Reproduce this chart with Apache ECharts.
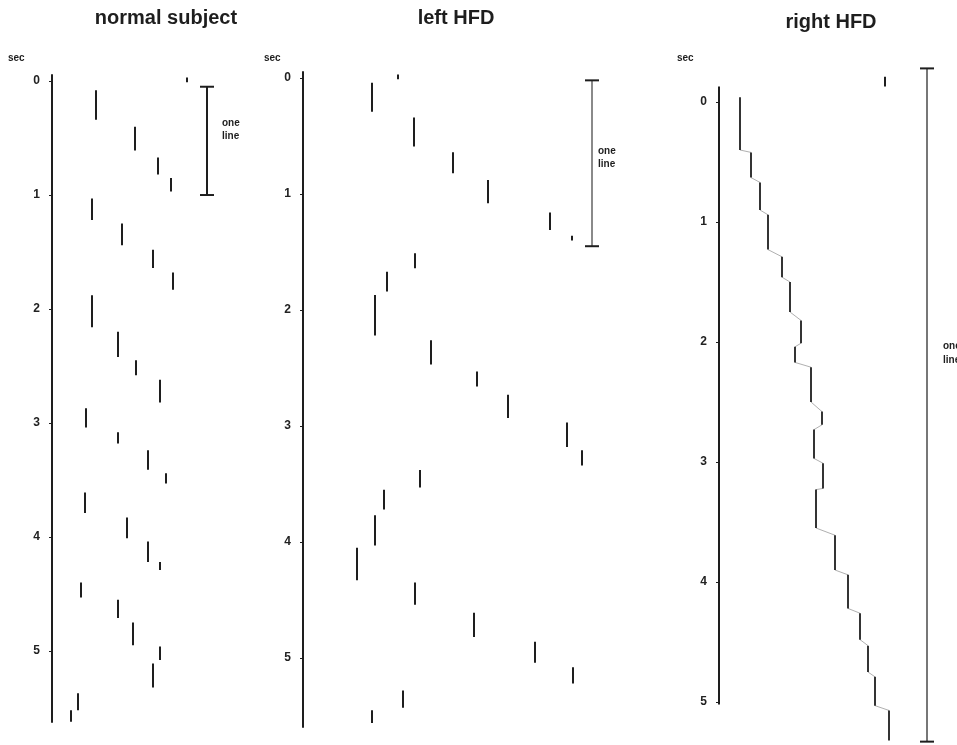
<!DOCTYPE html>
<html>
<head>
<meta charset="utf-8">
<script src="https://cdn.jsdelivr.net/npm/echarts@6/dist/echarts.min.js"></script>
<style>
  html, body { margin: 0; padding: 0; background: #fff; }
  #chart { width: 957px; height: 745px; }
</style>
</head>
<body>
<div id="chart"></div>
<script>
// tick labels (seconds) shared by the three panels
const secTicks = [0, 1, 2, 3, 4, 5]

// fixations: [horizontal position, start sec, end sec], grouped by text line
const normalFixations = [
  [[135, -0.03, 0.01]],
  [[44, 0.08, 0.34], [83, 0.40, 0.61], [106, 0.67, 0.82], [119, 0.85, 0.97]],
  [[40, 1.03, 1.22], [70, 1.25, 1.44], [101, 1.48, 1.64], [121, 1.68, 1.83]],
  [[40, 1.88, 2.16], [66, 2.20, 2.42], [84, 2.45, 2.58], [108, 2.62, 2.82]],
  [[34, 2.87, 3.04], [66, 3.08, 3.18], [96, 3.24, 3.41], [114, 3.44, 3.53]],
  [[33, 3.61, 3.79], [75, 3.83, 4.01], [96, 4.04, 4.22], [108, 4.22, 4.29]],
  [[29, 4.40, 4.53], [66, 4.55, 4.71], [81, 4.75, 4.95], [108, 4.96, 5.08], [101, 5.11, 5.32]],
  [[26, 5.37, 5.52], [19, 5.52, 5.62]]
]

const leftFixations = [
  [[95, -0.03, 0.01]],
  [[69, 0.04, 0.29], [111, 0.34, 0.59], [150, 0.64, 0.82], [185, 0.88, 1.08], [247, 1.16, 1.31], [269, 1.36, 1.40]],
  [[112, 1.51, 1.64], [84, 1.67, 1.84], [72, 1.87, 2.22], [128, 2.26, 2.47], [174, 2.53, 2.66], [205, 2.73, 2.93], [264, 2.97, 3.18], [279, 3.21, 3.34]],
  [[117, 3.38, 3.53], [81, 3.55, 3.72], [72, 3.77, 4.03], [54, 4.05, 4.33]],
  [[112, 4.35, 4.54], [171, 4.61, 4.82], [232, 4.86, 5.04], [270, 5.08, 5.22]],
  [[100, 5.28, 5.43], [69, 5.45, 5.56]]
]

const rightStart = [[166, -0.21, -0.13]]
const rightFixations = [
  [21, -0.04, 0.40], [32, 0.42, 0.63], [41, 0.67, 0.90], [49, 0.94, 1.23],
  [63, 1.29, 1.46], [71, 1.50, 1.75], [82, 1.82, 2.01], [76, 2.04, 2.17],
  [92, 2.21, 2.50], [103, 2.58, 2.69], [95, 2.73, 2.97], [104, 3.01, 3.22],
  [97, 3.23, 3.55], [116, 3.61, 3.90], [129, 3.94, 4.22], [141, 4.26, 4.48],
  [149, 4.53, 4.75], [156, 4.79, 5.03], [170, 5.07, 5.32]
]

// "one line" scale bars: [position, start sec, end sec]
const normalBar = [155, 0.05, 1.0]
const leftBar = [289, 0.02, 1.45]
const rightBar = [208, -0.28, 5.33]
const rightSpine = [-0.13, 5.02]

const ink = '#1e1e1e'

const fixSegments = (groups) => {
  const out = []
  groups.forEach(g => g.forEach(f => out.push({ coords: [[f[0], f[1]], [f[0], f[2]]] })))
  return out
}
// faint saccade links between consecutive fixations
const saccades = (fixes) => {
  const out = []
  for (let i = 1; i < fixes.length; i++) {
    out.push({ coords: [[fixes[i - 1][0], fixes[i - 1][2]], [fixes[i][0], fixes[i][1]]] })
  }
  return out
}
const barSegments = (b, cap) => [
  { coords: [[b[0] - cap, b[1]], [b[0] + cap, b[1]]] },
  { coords: [[b[0], b[1]], [b[0], b[2]]] },
  { coords: [[b[0] - cap, b[2]], [b[0] + cap, b[2]]] }
]

const linesSeries = (idx, data, color, width) => ({
  type: 'lines',
  coordinateSystem: 'cartesian2d',
  xAxisIndex: idx,
  yAxisIndex: idx,
  polyline: true,
  silent: true,
  lineStyle: { color, width, opacity: 1, curveness: 0 },
  data
})

const makeY = (idx, min, max, showLine) => ({
  type: 'value',
  gridIndex: idx,
  inverse: true,
  min,
  max,
  splitLine: { show: false },
  axisLine: { show: showLine, lineStyle: { color: ink, width: 2 } },
  axisTick: { show: true, customValues: secTicks, length: 3, lineStyle: { color: ink } },
  axisLabel: {
    customValues: secTicks,
    margin: 12,
    color: '#222',
    fontSize: 12,
    fontWeight: 'bold',
    fontFamily: 'Liberation Sans, Arial'
  }
})
const makeX = (idx, max) => ({ type: 'value', gridIndex: idx, min: 0, max, show: false })

const chart = echarts.init(document.getElementById('chart'))

const titleFont = 'bold 20px "Liberation Sans", Arial'
const smallFont = 'bold 10px "Liberation Sans", Arial'
const label = (x, y, text, font, align) => ({
  type: 'text', x, y,
  style: { text, font, fill: ink, textAlign: align || 'left', textVerticalAlign: 'middle' }
})

chart.setOption({
  animation: false,
  backgroundColor: '#fff',
  grid: [
    { left: 52, top: 75, width: 200, height: 647 },
    { left: 303, top: 72, width: 320, height: 655 },
    { left: 719, top: 66, width: 238, height: 679 }
  ],
  xAxis: [makeX(0, 200), makeX(1, 320), makeX(2, 238)],
  yAxis: [
    makeY(0, -0.053, 5.623, true),
    makeY(1, -0.052, 5.595, true),
    makeY(2, -0.30, 5.358, false)
  ],
  graphic: [
    label(166, 18, 'normal subject', titleFont, 'center'),
    label(456, 18, 'left HFD', titleFont, 'center'),
    label(831, 22, 'right HFD', titleFont, 'center'),
    label(8, 58, 'sec', smallFont),
    label(264, 58, 'sec', smallFont),
    label(677, 58, 'sec', smallFont),
    label(222, 123, 'one', smallFont),
    label(222, 136, 'line', smallFont),
    label(598, 151, 'one', smallFont),
    label(598, 164, 'line', smallFont),
    label(943, 346, 'one', smallFont),
    label(943, 360, 'line', smallFont)
  ],
  series: [
    linesSeries(0, fixSegments(normalFixations), ink, 2),
    linesSeries(0, barSegments(normalBar, 7), ink, 2),
    linesSeries(1, fixSegments(leftFixations), ink, 2),
    linesSeries(1, barSegments(leftBar, 7).slice(1, 2), '#8a8a8a', 2),
    linesSeries(1, [barSegments(leftBar, 7)[0], barSegments(leftBar, 7)[2]], ink, 2),
    linesSeries(2, [{ coords: [[0, rightSpine[0]], [0, rightSpine[1]]] }], ink, 2),
    linesSeries(2, fixSegments([rightStart]), ink, 2),
    linesSeries(2, saccades(rightFixations), '#b0b0b0', 1),
    linesSeries(2, fixSegments([rightFixations]), ink, 1.8),
    linesSeries(2, barSegments(rightBar, 7).slice(1, 2), '#777', 2),
    linesSeries(2, [barSegments(rightBar, 7)[0], barSegments(rightBar, 7)[2]], ink, 2)
  ]
})
</script>
</body>
</html>
